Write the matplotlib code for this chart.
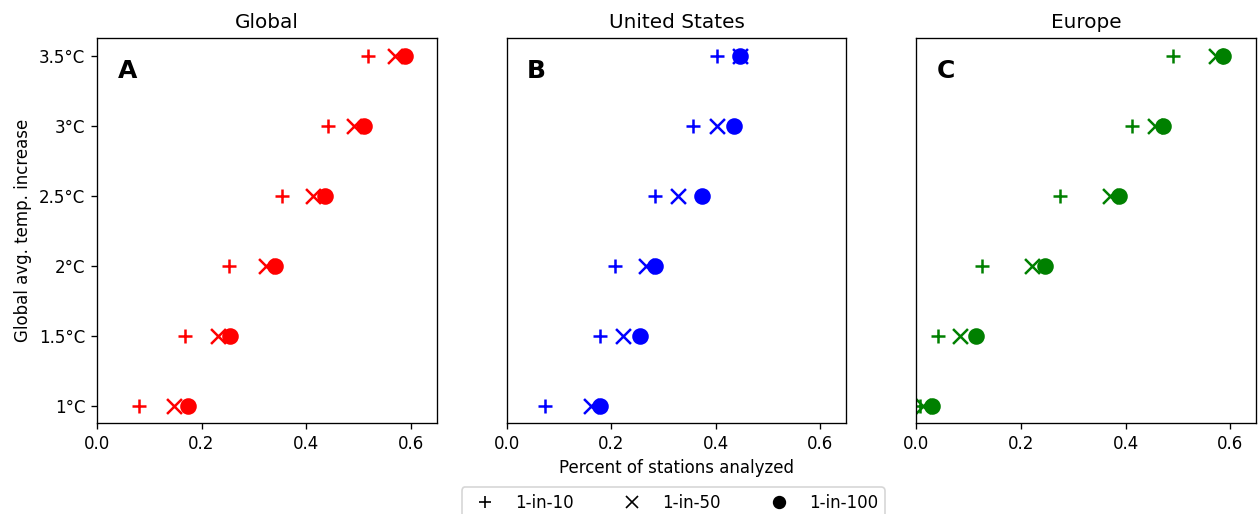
import matplotlib
matplotlib.use("Agg")
import matplotlib.pyplot as plt
from matplotlib.lines import Line2D
import numpy as np

temps = [1.0, 1.5, 2.0, 2.5, 3.0, 3.5]
temp_labels = ["1°C", "1.5°C", "2°C", "2.5°C", "3°C", "3.5°C"]

regions = ["Global", "United States", "Europe"]
letters = ["A", "B", "C"]
colors = ["red", "blue", "green"]

# fraction of stations, per return period
global_10 = [0.080, 0.168, 0.253, 0.354, 0.441, 0.519]
global_50 = [0.148, 0.232, 0.324, 0.413, 0.492, 0.570]
global_100 = [0.175, 0.254, 0.340, 0.436, 0.510, 0.589]

us_10 = [0.074, 0.178, 0.208, 0.283, 0.357, 0.403]
us_50 = [0.161, 0.223, 0.266, 0.328, 0.402, 0.446]
us_100 = [0.178, 0.254, 0.283, 0.373, 0.434, 0.446]

eu_10 = [0.006, 0.041, 0.125, 0.275, 0.413, 0.491]
eu_50 = [0.012, 0.083, 0.221, 0.370, 0.456, 0.573]
eu_100 = [0.029, 0.113, 0.245, 0.387, 0.472, 0.587]

series = [
    (global_10, global_50, global_100),
    (us_10, us_50, us_100),
    (eu_10, eu_50, eu_100),
]

fig, axes = plt.subplots(1, 3, figsize=(10.5, 514 / 120), dpi=120, sharex=True)
fig.subplots_adjust(left=0.077, right=0.997, bottom=0.177, top=0.926, wspace=0.206)

for i, ax in enumerate(axes):
    s10, s50, s100 = series[i]
    c = colors[i]
    ax.scatter(s10, temps, marker="+", color=c, s=80)
    ax.scatter(s50, temps, marker="x", color=c, s=80)
    ax.scatter(s100, temps, marker="o", color=c, s=80)
    ax.set_title(regions[i])
    ax.text(0.06, 0.915, letters[i], transform=ax.transAxes, fontsize=15,
            fontweight="bold", va="center", ha="left")
    ax.set_xlim(0, 0.65)
    ax.set_xticks([0.0, 0.2, 0.4, 0.6])
    if i == 0:
        ax.set_yticks(temps)
        ax.set_yticklabels(temp_labels)
        ax.set_ylabel("Global avg. temp. increase")
    else:
        ax.set_yticks([])
    ax.set_ylim(0.875, 3.625)

axes[1].set_xlabel("Percent of stations analyzed")

handles = [
    Line2D([], [], marker="+", color="black", linestyle="none", markersize=7),
    Line2D([], [], marker="x", color="black", linestyle="none", markersize=7),
    Line2D([], [], marker="o", color="black", linestyle="none", markersize=7),
]
axes[1].legend(handles, ["1-in-10", "1-in-50", "1-in-100"], ncol=3,
               loc="upper center", bbox_to_anchor=(0.49, -0.145),
               columnspacing=2.5)

fig.savefig("out.png", dpi=120)
